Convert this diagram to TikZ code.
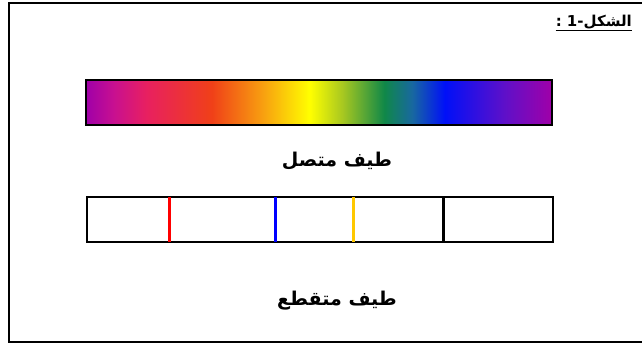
\documentclass[tikz,border=0pt]{standalone}
\usepackage{fontspec}
\newfontfamily\arabicfont[Script=Arabic]{DejaVu Sans}
\TeXXeTstate=1
\definecolor{spA}{HTML}{A000A8}
\definecolor{spB}{HTML}{C81090}
\definecolor{spC}{HTML}{E82060}
\definecolor{spD}{HTML}{F04018}
\definecolor{spE}{HTML}{F8A010}
\definecolor{spF}{HTML}{FFFF00}
\definecolor{spG}{HTML}{A8C820}
\definecolor{spH}{HTML}{108848}
\definecolor{spI}{HTML}{1868A0}
\definecolor{spJ}{HTML}{0010F8}
\definecolor{spK}{HTML}{6010C8}
\definecolor{lineyellow}{HTML}{FFC800}
\pgfdeclarehorizontalshading{spectrum}{100bp}{%
color(0bp)=(spA); color(25bp)=(spA); color(28bp)=(spB); color(31.5bp)=(spC);
color(38.5bp)=(spD); color(44bp)=(spE); color(49bp)=(spF); color(52.5bp)=(spG);
color(57bp)=(spH); color(60bp)=(spI); color(63.5bp)=(spJ); color(70bp)=(spK);
color(75bp)=(spA); color(100bp)=(spA)}
\tikzset{
  barbox/.style={draw=black, line width=1.8pt},
  specline/.style={line width=3pt},
  label/.style={font=\arabicfont\bfseries\fontsize{19}{23}\selectfont, inner sep=0pt, anchor=base},
}
\begin{document}
\begin{tikzpicture}[x=1pt,y=-1pt]
\useasboundingbox (0,0) rectangle (642,344);
\begin{scope}
\clip (0,0) rectangle (642,344);
\draw[line width=1.8pt] (9,3) rectangle (650,342);
\end{scope}
% title
\node[font=\arabicfont\bfseries\fontsize{15}{17}\selectfont, inner sep=0pt, anchor=base east] (title) at (632,27) {\beginR الشكل-1 :\endR};
\draw[line width=1.2pt] ([yshift=-3.5pt]title.base west) -- ([yshift=-3.5pt]title.base east);
% continuous spectrum
\path[shading=spectrum] (86,80) rectangle (552,125);
\draw[barbox] (86,80) rectangle (552,125);
\node[label] (cont) at (337,167) {\beginR طيف متصل\endR};
% line spectrum
\draw[barbox] (87,197) rectangle (553,242);
\coordinate (r1) at (169,197); \coordinate (r2) at (169,242);
\coordinate (b1) at (275,197); \coordinate (b2) at (275,242);
\coordinate (y1) at (353,197); \coordinate (y2) at (353,242);
\coordinate (k1) at (443,197); \coordinate (k2) at (443,242);
\draw[specline, red] (r1) -- (r2);
\draw[specline, blue] (b1) -- (b2);
\draw[specline, lineyellow] (y1) -- (y2);
\draw[specline, black] (k1) -- (k2);
\node[label] (disc) at (337,306) {\beginR طيف متقطع\endR};
\end{tikzpicture}
\end{document}
